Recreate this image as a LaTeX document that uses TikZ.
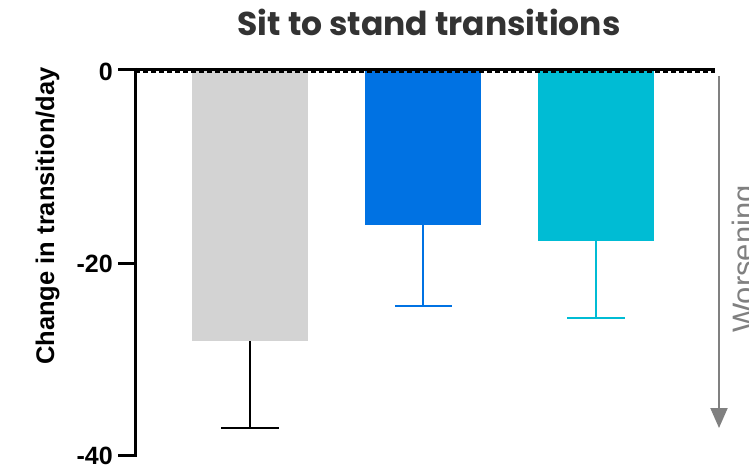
\documentclass[tikz,border=0pt]{standalone}
\usepackage{fontspec}
\setmainfont{Liberation Sans}
\newfontfamily\titlefont{Poppins}
\usetikzlibrary{arrows.meta}
\definecolor{barGray}{RGB}{211,211,211}
\definecolor{barBlue}{RGB}{0,114,227}
\definecolor{barCyan}{RGB}{0,188,212}
\definecolor{arrowGray}{RGB}{128,128,128}
\definecolor{titleGray}{RGB}{51,51,51}
\tikzset{errbar/.style={line width=1.8pt},
    ticklab/.style={anchor=east,font=\fontsize{25}{25}\selectfont\bfseries,inner sep=0pt}}

\begin{document}
\begin{tikzpicture}[x=1pt,y=1pt]
                \useasboundingbox (0,0) rectangle (749,467);

                % Bars
                \fill[barGray] (192,396) rectangle (308,126);
                \fill[barBlue] (365,396) rectangle (481,242);
                \fill[barCyan] (538,396) rectangle (654,226);

                % Error bars
                \draw[errbar,black] (250,126) -- (250,39);
                \draw[errbar,black] (221,39) -- (279,39);
                \draw[errbar,barBlue] (423,242) -- (423,161);
                \draw[errbar,barBlue] (395,161) -- (452,161);
                \draw[errbar,barCyan] (596,226) -- (596,149);
                \draw[errbar,barCyan] (567,149) -- (625,149);

                % Axes
                \draw[line width=3pt] (118,397.5) -- (715,397.5);
                \draw[line width=2pt,dash pattern=on 5pt off 3pt] (135,395) -- (715,395);
                \draw[line width=3pt] (135,399) -- (135,10.5);
                \draw[line width=3pt] (118,204) -- (135,204);
                \draw[line width=3pt] (118,12) -- (135,12);

                % Tick labels
                \node[ticklab] (t0) at (113,395) {0};
                \node[ticklab] (t20) at (113,203) {-20};
                \node[ticklab] (t40) at (113,11) {-40};

                % Worsening
                \draw[arrowGray,line width=2pt,-{Triangle[length=20pt,width=17pt]}] (719,391) -- (719,39);
                \node[arrowGray,rotate=90,anchor=base,inner sep=0pt,font=\fontsize{31}{31}\selectfont] (worse) at (754,208) {Worsening};

                % Labels
                \node[rotate=90,anchor=base,inner sep=0pt,font=\fontsize{25.5}{25.5}\selectfont\bfseries] (ylab) at (54,251) {Change in transition/day};
                \node[titleGray,anchor=base,inner sep=0pt,font=\titlefont\fontsize{33}{33}\selectfont\bfseries] (title) at (429,431) {Sit to stand transitions};
            \end{tikzpicture}
\end{document}
